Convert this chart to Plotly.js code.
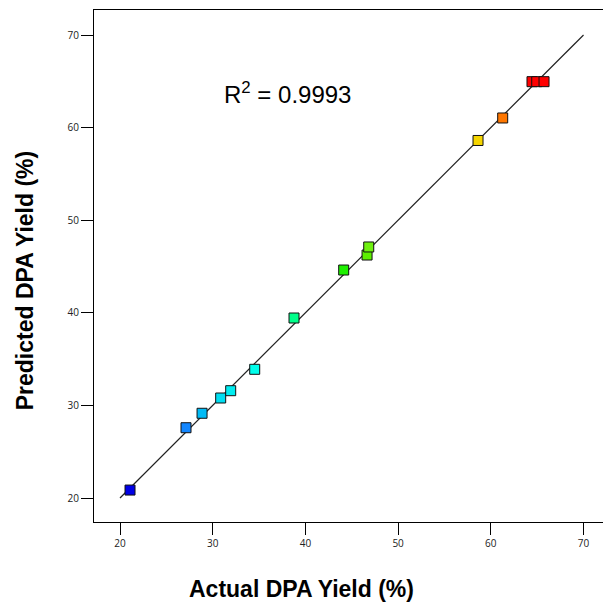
<!DOCTYPE html>
<html>
<head>
<meta charset="utf-8">
<script src="https://cdn.plot.ly/plotly-3.0.1.min.js"></script>
<style>html,body{margin:0;padding:0;background:#fff;}#chart{width:603px;height:602px;}</style>
</head>
<body>
<div id="chart"></div>
<script>
// Actual vs predicted DPA yield (%)
const actualYield = [21.08, 27.12, 28.85, 30.86, 31.94, 34.53, 38.77, 44.13, 46.65, 46.83, 58.62, 61.28, 64.44, 64.95, 65.74];
const predictedYield = [20.86, 27.59, 29.15, 30.80, 31.59, 33.90, 39.44, 44.62, 46.24, 47.11, 58.61, 61.04, 64.96, 64.96, 64.96];
const fitLineX = [20, 70];
const fitLineY = [20, 70];
const tickValues = [20, 30, 40, 50, 60, 70];
const tickLabels = ['20', '30', '40', '50', '60', '70'];
const rSquaredText = 'R<sup>2</sup> = 0.9993';
const xTitle = 'Actual DPA Yield (%)';
const yTitle = 'Predicted DPA Yield (%)';

const colorscale = [
  [0, 'rgb(0,0,230)'], [0.15, 'rgb(20,130,255)'], [0.19, 'rgb(0,190,245)'],
  [0.24, 'rgb(0,235,240)'], [0.30, 'rgb(0,255,235)'], [0.42, 'rgb(0,255,140)'],
  [0.54, 'rgb(30,240,0)'], [0.58, 'rgb(100,240,0)'], [0.60, 'rgb(115,240,20)'],
  [0.855, 'rgb(245,215,0)'], [0.91, 'rgb(255,120,0)'], [1, 'rgb(255,0,0)']
];

const traces = [
  {
    x: fitLineX, y: fitLineY, type: 'scatter', mode: 'lines',
    line: {color: '#222', width: 1.2}, hoverinfo: 'skip', showlegend: false
  },
  {
    x: actualYield, y: predictedYield, type: 'scatter', mode: 'markers',
    marker: {
      symbol: 'square', size: 10,
      color: predictedYield, colorscale: colorscale,
      cmin: Math.min(...predictedYield), cmax: Math.max(...predictedYield),
      showscale: false,
      line: {color: '#111', width: 1}
    },
    showlegend: false
  }
];

const tickFont = {family: 'Open Sans, DejaVu Sans, sans-serif', size: 10, color: '#222'};
const titleFont = {family: 'Liberation Sans, Arial, sans-serif', size: 23, color: '#000'};

const layout = {
  width: 603, height: 602,
  margin: {l: 94, r: 0, t: 10, b: 80},
  paper_bgcolor: '#fff', plot_bgcolor: '#fff',
  showlegend: false,
  xaxis: {
    range: [17.195, 72.10], tickvals: tickValues, ticktext: tickLabels,
    ticks: 'outside', ticklen: 12, tickwidth: 1, tickcolor: '#000',
    showgrid: false, zeroline: false,
    showline: true, linecolor: '#000', linewidth: 1, mirror: true,
    tickfont: tickFont
  },
  yaxis: {
    range: [17.41, 72.70], tickvals: tickValues, ticktext: tickLabels,
    ticks: 'outside', ticklen: 12, tickwidth: 1, tickcolor: '#000',
    showgrid: false, zeroline: false,
    showline: true, linecolor: '#000', linewidth: 1,
    tickfont: tickFont
  },
  annotations: [
    {
      text: rSquaredText, x: 31.0, y: 63.7, xref: 'x', yref: 'y',
      xanchor: 'left', yanchor: 'middle', showarrow: false,
      font: {family: 'Liberation Sans, Arial, sans-serif', size: 24, color: '#000'}
    },
    {
      text: '<b>' + xTitle + '</b>', x: 0.4086, y: -0.1305, xref: 'paper', yref: 'paper',
      xanchor: 'center', yanchor: 'middle', showarrow: false, font: titleFont
    },
    {
      text: '<b>' + yTitle + '</b>', x: -0.1350, y: 0.4707, xref: 'paper', yref: 'paper',
      xanchor: 'center', yanchor: 'middle', showarrow: false, textangle: -90, font: titleFont
    }
  ]
};

Plotly.newPlot('chart', traces, layout, {displayModeBar: false, staticPlot: true});
</script>
</body>
</html>
